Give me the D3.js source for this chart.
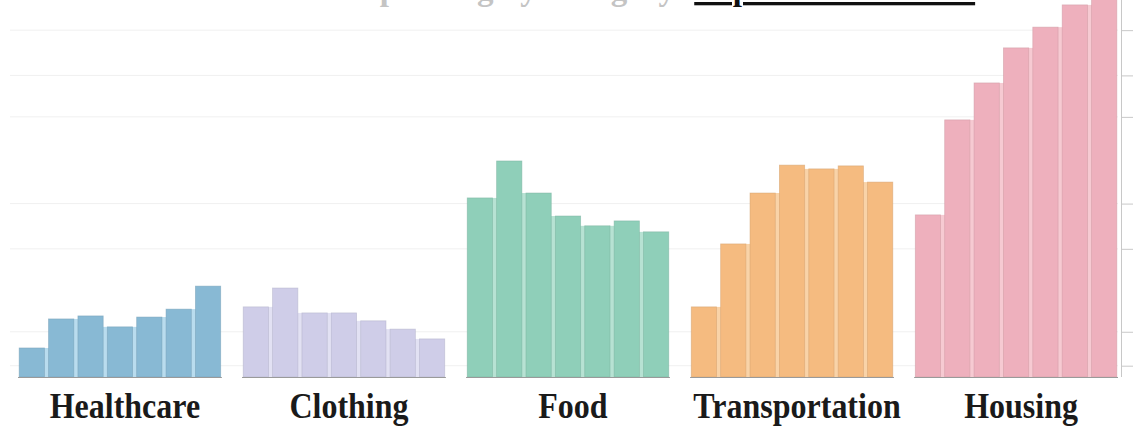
<!DOCTYPE html>
<html><head><meta charset="utf-8">
<script src="https://cdn.jsdelivr.net/npm/d3@7"></script>
<style>html,body{margin:0;padding:0;background:#fff;overflow:hidden}</style>
</head><body>
<svg id="chart" width="1136" height="426"></svg>
<script>
const categories = ["Healthcare","Clothing","Food","Transportation","Housing"];
const periods = ["P1","P2","P3","P4","P5","P6","P7"];
const healthcare = [7.7, 15.4, 16.2, 13.3, 15.9, 18.0, 24.1];
const clothing = [18.6, 23.6, 17.0, 17.0, 14.9, 12.7, 10.1];
const food = [47.5, 57.3, 48.8, 42.7, 40.1, 41.4, 38.5];
const transportation = [18.6, 35.3, 48.8, 56.2, 55.2, 56.0, 51.7];
const housing = [43.0, 68.2, 78.0, 87.3, 92.8, 98.7, 104.0];
const yTicks = [3, 12, 34, 46, 69, 80, 92];
const colors = ["#88b9d4","#cfcde8","#8fcfb9","#f5bb80","#eeb0bd"];
const gapColors = ["#b9dcee","#e2e1f3","#b7e2d3","#f9d3a8","#f6cad2"];
const titleMain = "Annual Household Spending by Category: ";
const titleUnder = "Expenditure Trends";

const series = [healthcare, clothing, food, transportation, housing];
const svg = d3.select("#chart");
const baseY = 377;
const x0 = d3.scaleBand().domain(categories).range([18, 1118]).paddingInner(0.09);
const x1 = d3.scaleBand().domain(periods).range([0, x0.bandwidth()]).paddingInner(0.14).paddingOuter(0.04);
const y = d3.scaleLinear().domain([0, 100]).range([baseY, 0]);

// faint gridlines
svg.append("g").selectAll("line").data(yTicks).join("line")
  .attr("x1", 10).attr("x2", 1118)
  .attr("y1", d => y(d)).attr("y2", d => y(d))
  .attr("stroke", "#f0f0f0").attr("stroke-width", 1);

// title (cropped at top as in reference)
const t = svg.append("text").attr("x", 90).attr("y", 0)
  .attr("font-family", "Liberation Serif").attr("font-weight", "bold")
  .attr("font-size", 33).attr("fill", "#222");
t.append("tspan").attr("fill", "#c4c4c4").text(titleMain);
t.append("tspan").attr("text-decoration", "underline").attr("fill", "#111").text(titleUnder);

// groups
const g = svg.append("g").selectAll("g").data(categories).join("g")
  .attr("transform", c => `translate(${x0(c)},0)`);

g.each(function(c, ci) {
  const vals = series[ci];
  const grp = d3.select(this);
  const gaps = d3.range(vals.length - 1);
  grp.selectAll("rect.gap").data(gaps).join("rect").attr("class", "gap")
    .attr("x", i => x1(periods[i]) + x1.bandwidth() - 1)
    .attr("width", i => x1(periods[i + 1]) - x1(periods[i]) - x1.bandwidth() + 2)
    .attr("y", i => y(Math.min(vals[i], vals[i + 1])))
    .attr("height", i => baseY - y(Math.min(vals[i], vals[i + 1])))
    .attr("fill", gapColors[ci]);
  grp.selectAll("rect.bar").data(vals).join("rect").attr("class", "bar")
    .attr("x", (d, i) => x1(periods[i]))
    .attr("width", x1.bandwidth())
    .attr("y", d => y(d))
    .attr("height", d => baseY - y(d))
    .attr("fill", colors[ci])
    .attr("stroke", d3.color(colors[ci]).darker(0.4))
    .attr("stroke-width", 0.8)
    .attr("stroke-opacity", 0.6);
  grp.append("line").attr("x1", 0).attr("x2", x0.bandwidth())
    .attr("y1", baseY + 0.5).attr("y2", baseY + 0.5)
    .attr("stroke", "#9a9a9a").attr("stroke-width", 1);
  grp.append("text").attr("x", x0.bandwidth() / 2 + 5).attr("y", 418)
    .attr("text-anchor", "middle")
    .attr("font-family", "Liberation Serif").attr("font-weight", "bold")
    .attr("font-size", 32).attr("fill", "#1a1a1a")
    .attr("transform", `translate(0,${418 - 418 * 1.1}) scale(1,1.1)`)
    .text(c);
});

// right axis
const axis = d3.axisRight(y).tickValues(yTicks).tickFormat("").tickSize(12);
const ag = svg.append("g").attr("transform", "translate(1121,0)").call(axis);
ag.select(".domain").attr("stroke", "#c8c8c8").attr("d", `M0.5,0V${baseY}`);
ag.selectAll(".tick line").attr("stroke", "#c8c8c8");
</script>
</body></html>
